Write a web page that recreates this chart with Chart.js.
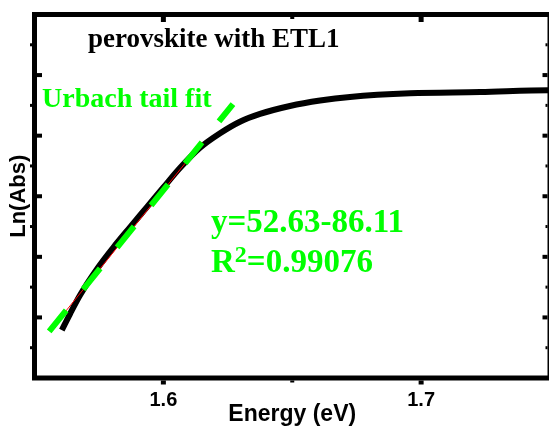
<!DOCTYPE html>
<html>
<head>
<meta charset="utf-8">
<script src="https://cdn.jsdelivr.net/npm/chart.js@4.4.0/dist/chart.umd.min.js"></script>
<style>
  html, body { margin: 0; padding: 0; background: #fff; overflow: hidden; }
  #wrap { width: 553px; height: 428px; }
</style>
</head>
<body>
<div id="wrap"><canvas id="grafico" width="553" height="428"></canvas></div>
<script>
// ESPECTRO: ln(Abs) frente a energia del foton
const energia = [1.5606, 1.5638, 1.5677, 1.5746, 1.5805, 1.5871, 1.5936, 1.5999, 1.6065, 1.6142,
                 1.6220, 1.6297, 1.6375, 1.6491, 1.6608, 1.6724, 1.6957, 1.7229, 1.7496, 1.7520];
const lnAbs = [-4.21, -3.94, -3.63, -3.18, -2.85, -2.51, -2.18, -1.86, -1.53, -1.20,
               -0.96, -0.77, -0.64, -0.51, -0.42, -0.36, -0.30, -0.28, -0.25, -0.25];

// AJUSTE URBACH  y = 52.63x - 86.11
const ajusteE = [1.5557, 1.6270];
const ajusteLn = [-4.23, -0.48];
const rectaE = [1.5613, 1.6150];
const rectaLn = [-3.94, -1.11];

// marcas de los ejes
const xMayor = [1.6, 1.7];
const xMenor = [1.65];
const xEtiquetas = ['1.6', '1.7'];
const yMayor = [-4, -3, -2, -1, 0];
const yMenor = [-4.5, -3.5, -2.5, -1.5, -0.5, 0.5];

const verde = '#00ff00';
const serif = '"Liberation Serif", "Times New Roman", serif';
const sans = '"Liberation Sans", Arial, sans-serif';

const puntos = (xs, ys) => xs.map((v, i) => ({ x: v, y: ys[i] }));

const marco = {
    id: 'marco',
    afterDraw(chart) {
        const { ctx, chartArea: a, scales: { x, y } } = chart;
        ctx.save();
        ctx.strokeStyle = '#000';
        ctx.lineWidth = 5;
        ctx.strokeRect(a.left, a.top, a.right - a.left, a.bottom - a.top);

        ctx.fillStyle = '#000';
        xMayor.forEach(v => {
            const px = x.getPixelForValue(v);
            ctx.fillRect(px - 2.5, a.bottom + 2.5, 5, 4);
            ctx.fillRect(px - 2.5, a.top + 2.5, 5, 5);
        });
        xMenor.forEach(v => {
            const px = x.getPixelForValue(v);
            ctx.fillRect(px - 2, a.bottom + 2.5, 4, 2);
            ctx.fillRect(px - 2, a.top + 2.5, 4, 2);
        });
        yMayor.forEach(v => {
            const py = y.getPixelForValue(v);
            ctx.fillRect(a.left + 2.5, py - 2, 5, 4);
            ctx.fillRect(a.right - 7.5, py - 2, 5, 4);
        });
        yMenor.forEach(v => {
            const py = y.getPixelForValue(v);
            ctx.fillRect(a.left - 4.5, py - 1.5, 2, 3);
            ctx.fillRect(a.right - 4.5, py - 1.5, 2, 3);
        });

        // TEXTOS
        ctx.textBaseline = 'alphabetic';
        ctx.textAlign = 'left';
        ctx.font = 'bold 27px ' + serif;
        ctx.fillText('perovskite with ETL1', 88, 47);

        ctx.fillStyle = verde;
        ctx.font = 'bold 28px ' + serif;
        ctx.fillText('Urbach tail fit', 42, 107);

        ctx.font = 'bold 33px ' + serif;
        ctx.fillText('y=52.63-86.11', 211, 232);
        ctx.fillText('R', 211, 272);
        let cx = 211 + ctx.measureText('R').width;
        ctx.font = 'bold 24px ' + serif;
        ctx.fillText('2', cx, 262);
        cx += ctx.measureText('2').width;
        ctx.font = 'bold 33px ' + serif;
        ctx.fillText('=0.99076', cx, 272);
        ctx.restore();
    }
};

const ctx = document.getElementById('grafico').getContext('2d');
new Chart(ctx, {
    type: 'line',
    data: {
        datasets: [{
            label: 'ajuste',
            data: puntos(ajusteE, ajusteLn),
            borderColor: verde,
            borderWidth: 6,
            borderDash: [27, 27],
            pointRadius: 0,
            order: 0
        }, {
            label: 'recta',
            data: puntos(rectaE, rectaLn),
            borderColor: '#ff0000',
            borderWidth: 1,
            pointRadius: 0,
            order: 1
        }, {
            label: 'ln(Abs)',
            data: puntos(energia, lnAbs),
            borderColor: '#000',
            borderWidth: 6,
            pointRadius: 0,
            cubicInterpolationMode: 'monotone',
            order: 2
        }]
    },
    options: {
        responsive: false,
        animation: false,
        devicePixelRatio: 1,
        layout: { padding: { top: 14.5, right: 3, left: 0, bottom: 0 } },
        plugins: { legend: { display: false }, tooltip: { enabled: false } },
        scales: {
            x: {
                type: 'linear',
                min: 1.55,
                max: 1.75,
                afterFit: s => { s.height = 50; },
                afterBuildTicks: s => { s.ticks = xMayor.map(v => ({ value: v })); },
                grid: { display: false, drawTicks: false },
                border: { display: false },
                ticks: {
                    padding: 10,
                    color: '#000',
                    font: { family: sans, size: 20, weight: 'bold' },
                    callback: (v, i) => xEtiquetas[i]
                },
                title: {
                    display: true,
                    text: 'Energy (eV)',
                    color: '#000',
                    padding: 0,
                    font: { family: sans, size: 23, weight: 'bold' }
                }
            },
            y: {
                type: 'linear',
                min: -5,
                max: 1,
                afterFit: s => { s.width = 34.5; },
                grid: { display: false, drawTicks: false },
                border: { display: false },
                ticks: { display: false },
                title: {
                    display: true,
                    text: 'Ln(Abs)',
                    color: '#000',
                    padding: { top: 6, bottom: 0 },
                    font: { family: sans, size: 22, weight: 'bold' }
                }
            }
        }
    },
    plugins: [marco]
});
</script>
</body>
</html>
